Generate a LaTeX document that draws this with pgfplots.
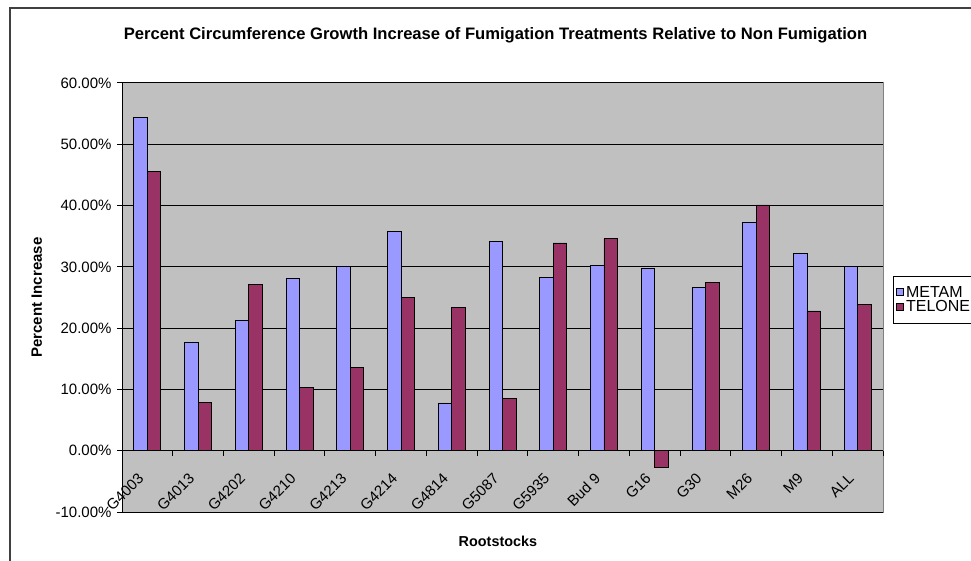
\documentclass[border=0pt]{standalone}
\usepackage{fontspec}
\setmainfont{Liberation Sans}
\usepackage{pgfplots}
\pgfplotsset{compat=1.18}
\definecolor{metam}{RGB}{153,153,255}
\definecolor{telone}{RGB}{153,51,102}
\definecolor{plotgray}{RGB}{192,192,192}
\definecolor{framegray}{RGB}{128,128,128}
\begin{document}
\begin{tikzpicture}[x=1pt,y=1pt]
\useasboundingbox (0,0) rectangle (971,-561);
\draw[line width=1.2pt, black!75] (10,-8) rectangle (1000,-620);
\begin{axis}[
  at={(122pt,-512pt)}, anchor=south west,
  scale only axis, width=761pt, height=429pt,
  xmin=-0.5, xmax=14.5, ymin=-10, ymax=60,
  axis x line=middle, axis y line=left,
  axis line style={-, black, line width=1pt},
  hide obscured x ticks=false, hide obscured y ticks=false,
  axis background/.style={fill=plotgray, draw=framegray, line width=1pt},
  ybar=0pt,
  tick align=outside,
  major tick length=5pt, minor tick length=5pt,
  every tick/.style={black, line width=1pt},
  ytick={-10,0,10,20,30,40,50,60},
  yticklabels={-10.00\%,0.00\%,10.00\%,20.00\%,30.00\%,40.00\%,50.00\%,60.00\%},
  ymajorgrids=true,
  major grid style={black, line width=1pt},
  xtick={0,...,14},
  xticklabels={G4003,G4013,G4202,G4210,G4213,G4214,G4814,G5087,G5935,Bud 9,G16,G30,M26,M9,ALL},
  minor xtick={-0.5,0.5,...,14.5},
  major x tick style={draw=none},
  tick label style={font=\fontsize{15}{17}\selectfont},
  yticklabel style={xshift=-2pt},
  xticklabel style={xshift=-4pt, yshift=-18pt, rotate=45, anchor=east},
  every axis title shift=0pt,
  title={Percent Circumference Growth Increase of Fumigation Treatments Relative to Non Fumigation},
  title style={at={(axis description cs:0.4908,1.112)}, anchor=center, font=\bfseries\fontsize{16.6}{18}\selectfont},
  xlabel={Rootstocks},
  xlabel style={at={(axis description cs:0.494,-0.0676)}, anchor=center, font=\bfseries\fontsize{14.4}{16}\selectfont},
  ylabel={Percent Increase},
  ylabel style={at={(axis description cs:-0.112,0.5)}, anchor=center, rotate=0, font=\bfseries\fontsize{15}{16}\selectfont},
  legend style={at={(1.0131,0.551)}, anchor=north west, draw=black, fill=white, line width=0.8pt,
    font=\fontsize{16}{15}\selectfont, inner xsep=3pt, inner ysep=8pt, row sep=-2pt, cells={anchor=west}},
]
\addplot[fill=metam, draw=black, line width=0.8pt, bar width=13.5pt,
  legend image code/.code={\draw[fill=metam, draw=black, line width=0.7pt] (0pt,-3.5pt) rectangle (7pt,3.5pt);}]
  coordinates {(0,54.4) (1,17.6) (2,21.3) (3,28.1) (4,30.0) (5,35.8) (6,7.8) (7,34.1) (8,28.3) (9,30.3) (10,29.8) (11,26.7) (12,37.3) (13,32.2) (14,30.0)};
\addplot[fill=telone, draw=black, line width=0.8pt, bar width=13.5pt,
  legend image code/.code={\draw[fill=telone, draw=black, line width=0.7pt] (0pt,-3.5pt) rectangle (7pt,3.5pt);}]
  coordinates {(0,45.6) (1,7.9) (2,27.1) (3,10.3) (4,13.6) (5,25.0) (6,23.4) (7,8.6) (8,33.9) (9,34.6) (10,-2.7) (11,27.5) (12,40.1) (13,22.8) (14,23.8)};
\legend{METAM,TELONE}
\end{axis}
\end{tikzpicture}
\end{document}
